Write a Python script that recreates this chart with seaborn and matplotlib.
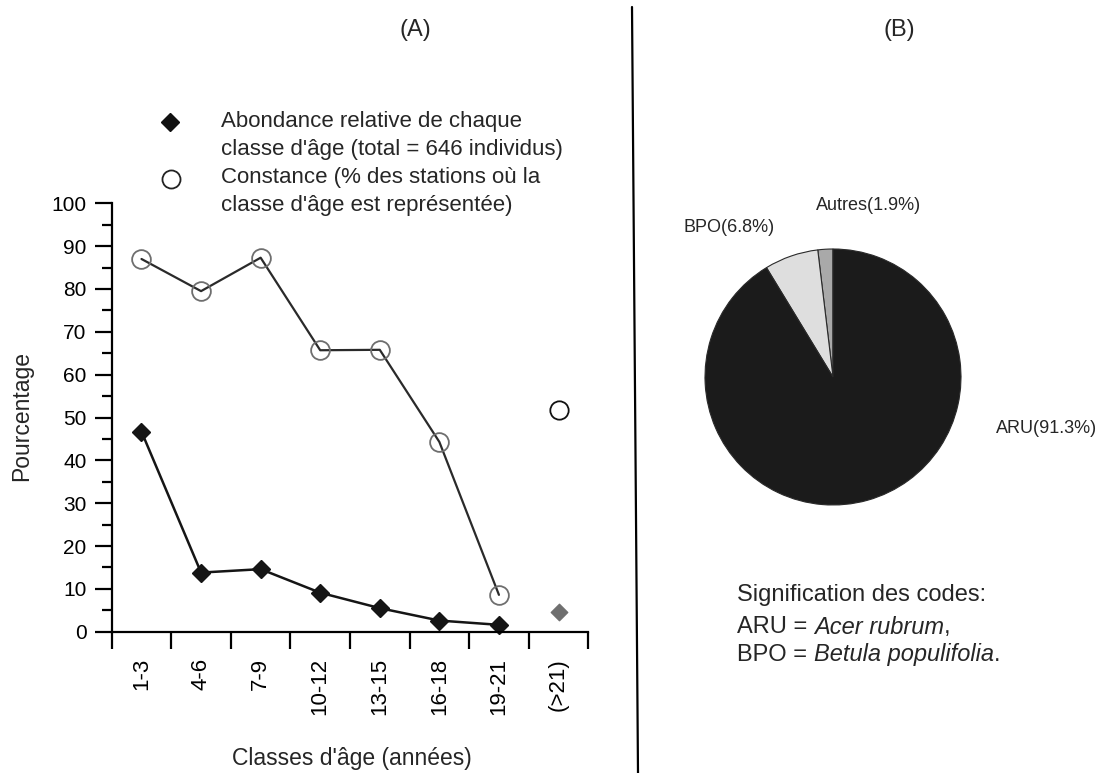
import numpy as np
import pandas as pd
import matplotlib
matplotlib.use("Agg")
import matplotlib.pyplot as plt
import seaborn as sns
from matplotlib.lines import Line2D

# ---------------- data ----------------
classes = ["1-3", "4-6", "7-9", "10-12", "13-15", "16-18", "19-21", "(>21)"]
abondance = [46.7, 13.8, 14.6, 9.1, 5.5, 2.6, 1.6, 4.7]
constance = [87.0, 79.5, 87.3, 65.7, 65.8, 44.3, 8.6, 51.8]
yticks = list(range(0, 101, 10))

pie_labels = ["Autres(1.9%)", "BPO(6.8%)", "ARU(91.3%)"]
pie_values = [1.9, 6.8, 91.3]
pie_colors = ["#a9a9a9", "#dedede", "#1b1b1b"]

sns.set_style("ticks")
plt.rcParams["font.family"] = ["Liberation Sans", "DejaVu Sans"]

W, H = 1103, 773
fig = plt.figure(figsize=(W / 100, H / 100), dpi=100)


def fx(x):
    return x / W


def fy(y):
    return 1 - y / H


# ---------------- panel A ----------------
ax = fig.add_axes([fx(111.7), fy(631.7), (588.3 - 111.7) / W, (631.7 - 203.3) / H])
df = pd.DataFrame({"pos": np.arange(len(classes)), "classe": classes,
                   "abondance": abondance, "constance": constance})
conn = df.iloc[:7]
last = df.iloc[7:]

sns.lineplot(data=conn, x="pos", y="constance", ax=ax, color="#2a2a2a", lw=1.6,
             marker="o", markersize=13.5, markerfacecolor="none",
             markeredgecolor="#6e6e6e", markeredgewidth=1.3, clip_on=False)
sns.lineplot(data=conn, x="pos", y="abondance", ax=ax, color="#151515", lw=1.8,
             marker="D", markersize=9, markerfacecolor="#151515",
             markeredgecolor="#151515", markeredgewidth=1, clip_on=False)
sns.scatterplot(data=last, x="pos", y="constance", ax=ax, marker="o", s=175,
                facecolor="white", edgecolor="#111111", linewidth=1.3, clip_on=False, zorder=5)
sns.scatterplot(data=last, x="pos", y="abondance", ax=ax, marker="D", s=70,
                color="#6f6f6f", edgecolor="#6f6f6f", linewidth=1, clip_on=False, zorder=5)

ax.set_xlim(-0.5, 7.5)
ax.set_ylim(0, 100)
ax.set_xlabel("")
ax.set_ylabel("")
for s in ["top", "right"]:
    ax.spines[s].set_visible(False)
for s in ["left", "bottom"]:
    ax.spines[s].set_linewidth(1.6)
    ax.spines[s].set_color("black")

ax.set_xticks(range(len(classes)))
ax.set_xticklabels(classes, rotation=90, fontsize=16)
ax.set_xticks(np.arange(-0.5, len(classes), 1), minor=True)
ax.tick_params(axis="x", which="major", length=0, pad=19, colors="black")
ax.tick_params(axis="x", which="minor", length=12, width=1.6, direction="out", color="black")
ax.set_yticks(yticks)
ax.set_yticklabels([str(v) for v in yticks], fontsize=15)
ax.set_yticks(np.arange(5, 100, 10), minor=True)
ax.tick_params(axis="y", which="major", length=12, width=1.6, pad=6, colors="black")
ax.tick_params(axis="y", which="minor", length=7, width=1.6, color="black")

fig.text(fx(22), fy(416), "Pourcentage", rotation=90, ha="center", va="center", fontsize=16.5)
fig.text(fx(352), fy(759), "Classes d'âge (années)", ha="center", va="center", fontsize=16.5)
fig.text(fx(415), fy(30), "(A)", ha="center", va="center", fontsize=17)
fig.text(fx(899), fy(30), "(B)", ha="center", va="center", fontsize=17)

# legend (manual)
fig.add_artist(Line2D([fx(170)], [fy(122)], marker="D", markersize=9, color="#111111",
                      transform=fig.transFigure, linestyle="none"))
fig.add_artist(Line2D([fx(170.5)], [fy(179)], marker="o", markersize=13, markerfacecolor="none",
                      markeredgecolor="#222222", markeredgewidth=1.3,
                      transform=fig.transFigure, linestyle="none"))
leg_lines = [("Abondance relative de chaque", 121.7),
             ("classe d'âge (total = 646 individus)", 150),
             ("Constance (% des stations où la", 178),
             ("classe d'âge est représentée)", 205)]
for txt, yy in leg_lines:
    fig.text(fx(221), fy(yy), txt, ha="left", va="center", fontsize=16)

# divider
fig.add_artist(Line2D([fx(632), fx(638)], [fy(7), fy(773)], color="black", lw=1.6,
                      transform=fig.transFigure))

# ---------------- panel B ----------------
cx, cy, r = 833, 377, 128
ax2 = fig.add_axes([fx(cx - r), fy(cy + r), 2 * r / W, 2 * r / H])
ax2.pie(pie_values, colors=pie_colors, startangle=90, counterclock=True,
        wedgeprops=dict(edgecolor="#2a2a2a", linewidth=0.8))
ax2.set_xlim(-1, 1)
ax2.set_ylim(-1, 1)
ax2.set_aspect("equal")
ax2.axis("off")

label_pos = [(869, 206), (729, 228), (1047, 428)]
for lab, (px, py) in zip(pie_labels, label_pos):
    fig.text(fx(px), fy(py), lab, ha="center", va="center", fontsize=13)

# codes text
fig.canvas.draw()
renderer = fig.canvas.get_renderer()
x0 = 737
fig.text(fx(x0), fy(595), "Signification des codes:", ha="left", va="center", fontsize=17)


def mixed(parts, yy):
    xcur = fx(x0)
    for txt, style in parts:
        t = fig.text(xcur, fy(yy), txt, ha="left", va="center", fontsize=17, style=style)
        bb = t.get_window_extent(renderer=renderer)
        xcur += bb.width / W


mixed([("ARU = ", "normal"), ("Acer rubrum", "italic"), (",", "normal")], 627)
mixed([("BPO = ", "normal"), ("Betula populifolia", "italic"), (".", "normal")], 655)

fig.savefig("out.png", dpi=100)
